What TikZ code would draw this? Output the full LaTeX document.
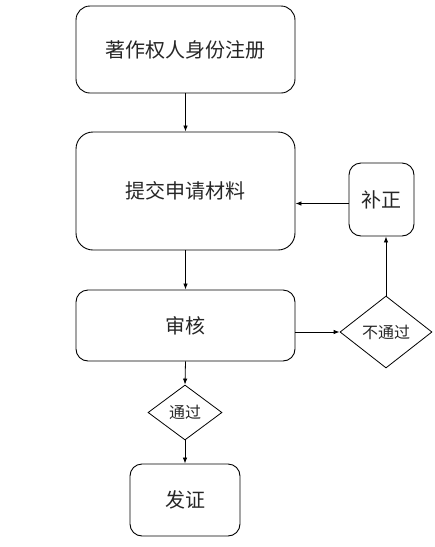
\documentclass[tikz,border=0pt]{standalone}
\usepackage{fontspec}
\setmainfont{Noto Sans CJK SC}
\usetikzlibrary{shapes.geometric,arrows.meta}
\begin{document}
\begin{tikzpicture}[x=1pt,y=-1pt,
  box/.style={draw=black,line width=0.9pt,rounded corners=14pt,inner sep=0pt,font=\fontsize{20}{22}\selectfont,text=black!85},
  dia/.style={draw=black,line width=0.8pt,shape=diamond,inner sep=0pt,font=\fontsize{16}{18}\selectfont,text=black!85},
  arr/.style={draw=black,line width=0.8pt,-{Latex[length=6pt,width=4.5pt]}}]
\useasboundingbox (0,0) rectangle (435,547);
\node[box,minimum width=219pt,minimum height=87pt] (reg) at (185.5,49.5) {著作权人身份注册};
\node[box,minimum width=219pt,minimum height=118pt,rounded corners=17pt] (sub) at (185.5,191) {提交申请材料};
\node[box,minimum width=219pt,minimum height=71pt,rounded corners=12pt] (rev) at (185.5,325.5) {审核};
\node[box,minimum width=65pt,minimum height=73pt,rounded corners=12pt] (fix) at (381.5,199.5) {补正};
\node[dia,minimum width=92pt,minimum height=72pt] (no) at (386,332) {不通过};
\node[dia,minimum width=74pt,minimum height=55pt] (yes) at (185,412.5) {通过};
\node[box,minimum width=110pt,minimum height=72pt,rounded corners=12pt] (cert) at (185,500) {发证};
\draw[arr] (reg.south) -- (sub.north);
\draw[arr] (sub.south) -- (rev.north);
\draw[arr] (rev.south) -- (yes.north);
\draw[arr] (yes.south) -- (cert.north);
\draw[arr] (no.west -| rev.east) -- (no.west);
\draw[arr] (no.north) -- (no.north |- fix.south);
\draw[arr] ([yshift=-4pt]fix.west) -- ([yshift=-4pt]fix.west -| sub.east);
\end{tikzpicture}
\end{document}
